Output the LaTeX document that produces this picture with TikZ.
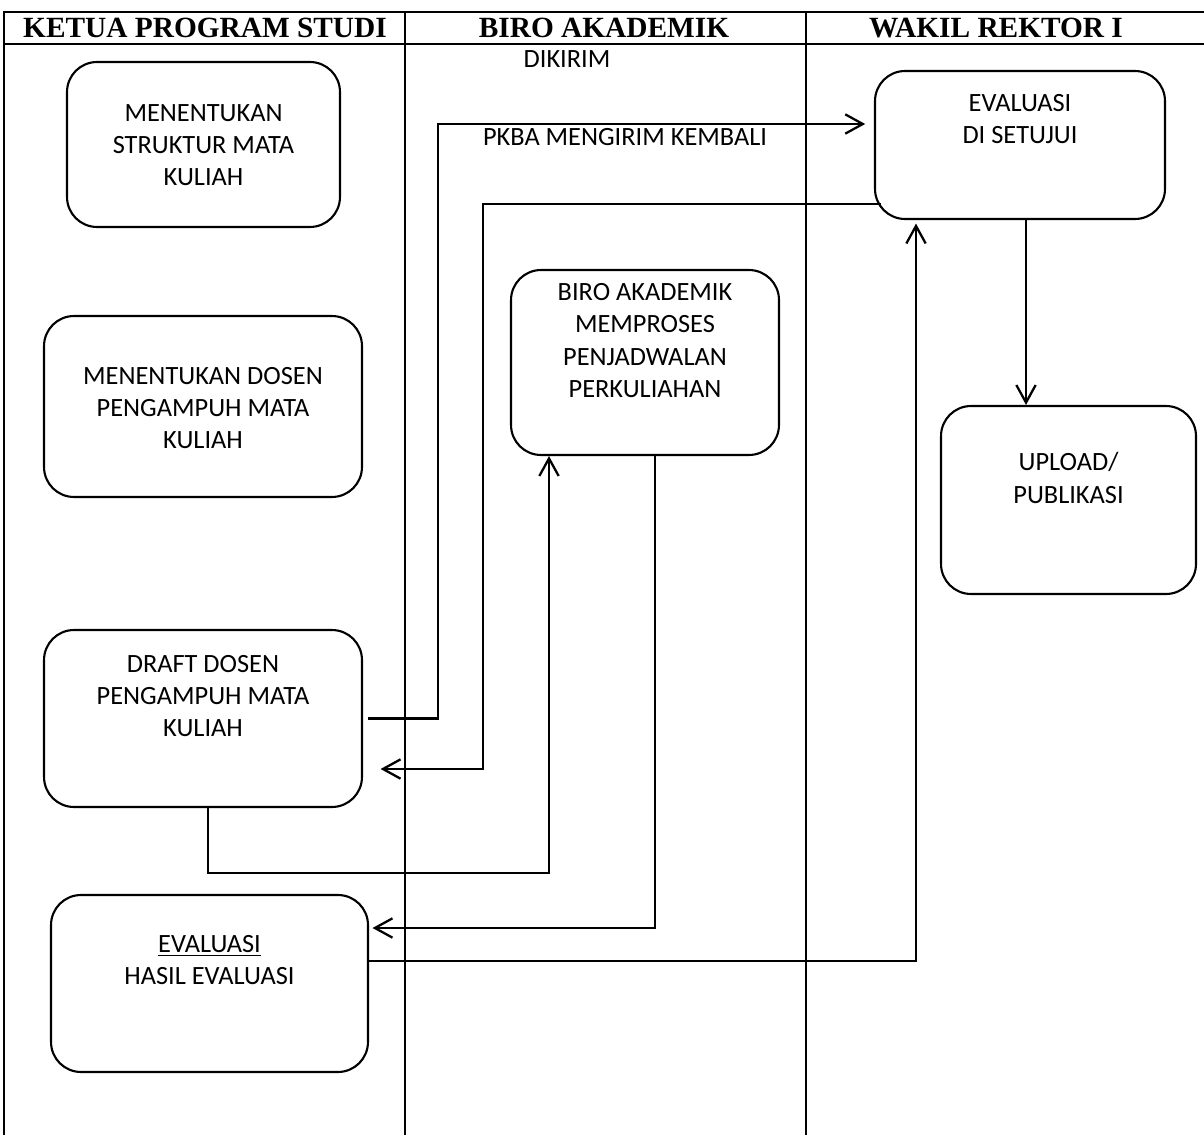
\documentclass[tikz,border=0pt]{standalone}
\usepackage{fontspec}
\setmainfont{Carlito}
\newfontfamily\headfont{Liberation Serif}
\usetikzlibrary{arrows.meta}

\begin{document}
\begin{tikzpicture}[x=0.02cm, y=-0.02cm,
  every node/.style={font=\fontsize{15}{18.4}\selectfont},
  lane/.style={line width=0.6pt},
  box/.style={draw, line width=1.2pt, rounded corners=0.6cm, inner sep=0pt},
  txt/.style={align=center, inner sep=0pt},
  head/.style={font=\headfont\bfseries\fontsize{16.7}{20}\selectfont},
  flow/.style={line width=1.3pt, -{Straight Barb[length=10pt,width=11pt]}}]
  \useasboundingbox (0,0) rectangle (1204,1135);
  % swimlanes
  \draw[lane] (4,1135) -- (4,12) -- (1204,12);
  \draw[lane] (4,44) -- (1204,44);
  \draw[lane] (405,12) -- (405,1135);
  \draw[lane] (806,12) -- (806,1135);
  \node[head] (hkp) at (205,28) {KETUA PROGRAM STUDI};
  \node[head] (hba) at (604,28) {BIRO AKADEMIK};
  \node[head] (hwr) at (996,28) {WAKIL REKTOR I};
  % ketua program studi
  \node[box, minimum width=5.46cm, minimum height=3.3cm] (mst) at (203.5,144.5) {};
  \node[txt] (mst-t) at (203.5,145) {MENENTUKAN\\STRUKTUR MATA\\KULIAH};
  \node[box, minimum width=6.36cm, minimum height=3.62cm] (mdp) at (203,406.5) {};
  \node[txt] (mdp-t) at (203,408) {MENENTUKAN DOSEN\\PENGAMPUH MATA\\KULIAH};
  \node[box, minimum width=6.36cm, minimum height=3.54cm] (drf) at (203,718.5) {};
  \node[txt] (drf-t) at (203,696) {DRAFT DOSEN\\PENGAMPUH MATA\\KULIAH};
  \node[box, minimum width=6.34cm, minimum height=3.54cm] (evh) at (209.5,983.5) {};
  \node[txt] (evh-t) at (209.5,960) {\underline{EVALUASI}\\HASIL EVALUASI};
  % biro akademik
  \node[box, minimum width=5.36cm, minimum height=3.7cm] (bap) at (645,362.5) {};
  \node[txt] (bap-t) at (645,340.5) {BIRO AKADEMIK\\MEMPROSES\\PENJADWALAN\\PERKULIAHAN};
  \node[txt] (dkr) at (567,59) {DIKIRIM};
  \node[txt] (pkba) at (625,137) {PKBA MENGIRIM KEMBALI};
  % wakil rektor
  \node[box, minimum width=5.8cm, minimum height=2.96cm] (evs) at (1020,145) {};
  \node[txt] (evs-t) at (1020,119) {EVALUASI\\DI SETUJUI};
  \node[box, minimum width=5.1cm, minimum height=3.76cm] (upl) at (1068.5,500) {};
  \node[txt] (upl-t) at (1068.5,478) {UPLOAD/\\PUBLIKASI};
  % alur
  \coordinate (ka) at (438,124);
  \draw[flow, shorten >=5pt] ([xshift=3pt]drf.east) -| (ka) -- (ka -| evs.west);
  \coordinate (kb) at (483,204);
  \coordinate (kb2) at (483,769);
  \draw[flow, shorten >=10pt] ([xshift=4pt]kb -| evs.west) -- (kb) -- (kb2) -- (kb2 -| drf.east);
  \coordinate (kc) at (549,873);
  \draw[flow] ([xshift=3pt]drf.south) |- (kc) -- (kc |- bap.south);
  \coordinate (kd) at (655,928);
  \draw[flow, shorten >=2pt] (kd |- bap.south) -- (kd) -- (kd -| evh.east);
  \coordinate (ke) at (916,961);
  \draw[flow, shorten >=2pt] (ke -| evh.east) -- (ke) -- (ke |- evs.south);
  \coordinate (kf) at (1026,300);
  \draw[flow] (kf |- evs.south) -- (kf |- upl.north);
\end{tikzpicture}
\end{document}
